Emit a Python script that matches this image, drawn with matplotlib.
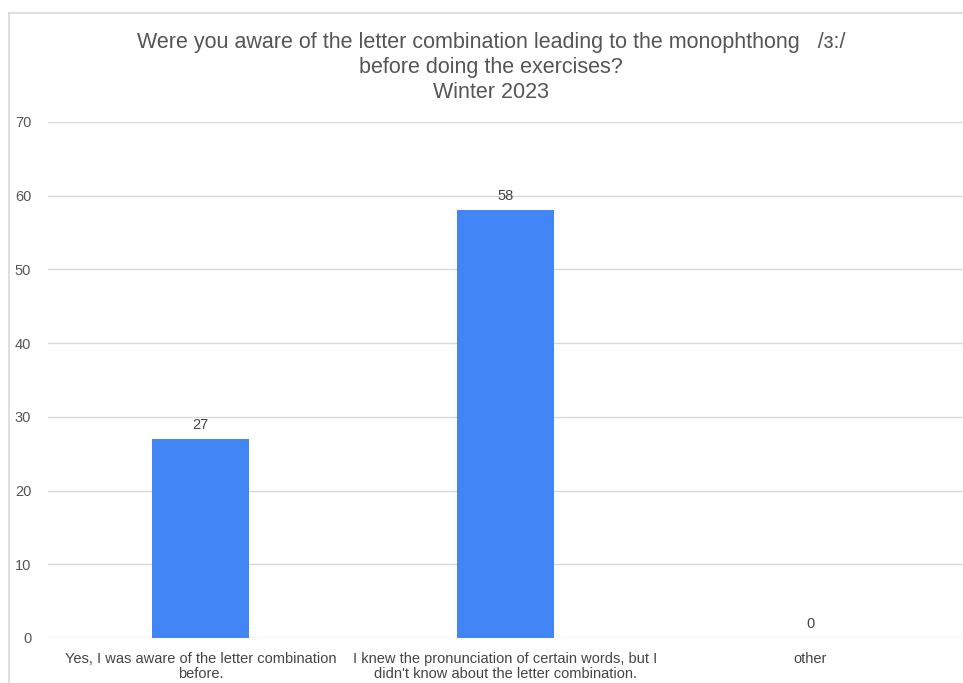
import matplotlib
matplotlib.use("Agg")
import matplotlib.pyplot as plt
from matplotlib.lines import Line2D

categories = [
    "Yes, I was aware of the letter combination\nbefore.",
    "I knew the pronunciation of certain words, but I\ndidn't know about the letter combination.",
    "other",
]
values = [27, 58, 0]
yticks = [0, 10, 20, 30, 40, 50, 60, 70]
title = ("Were you aware of the letter combination leading to the monophthong   /ɜ:/\n"
         "before doing the exercises?\nWinter 2023")

plt.rcParams['font.family'] = ['Liberation Sans', 'DejaVu Sans']

fig = plt.figure(figsize=(9.63, 6.83), dpi=100)
ax = fig.add_axes([0.0498, 0.0659, 0.9502, 0.7555])

x = list(range(len(categories)))
bars = ax.bar(x, values, width=0.315, color="#4285F4", zorder=3)
for xi, v in zip(x, values):
    ax.annotate(str(v), (xi, v), xytext=(0, 5), textcoords="offset points",
                ha="center", va="bottom", fontsize=10.5, color="#444444", zorder=4)

ax.set_xlim(-0.5, 2.5)
ax.set_ylim(0, 70)
ax.set_yticks(yticks)
ax.set_yticklabels([str(t) for t in yticks], fontsize=10.5, color="#555555")
ax.set_xticks(x)
ax.set_xticklabels(categories, fontsize=10.5, color="#444444", linespacing=1.12)
ax.tick_params(axis="x", length=0, pad=10)
ax.tick_params(axis="y", length=0, pad=12)
ax.grid(axis="y", color="#d9d9d9", linewidth=1, zorder=0)
for s in ax.spines.values():
    s.set_visible(False)

fig.text(0.51, 0.953, title, ha="center", va="top", fontsize=15.5,
         color="#555555", linespacing=1.25)

# outer border (top and left)
fig.add_artist(Line2D([9/963, 9/963], [0, 1 - 13/683], transform=fig.transFigure,
                      color="#d9d9d9", linewidth=1.2))
fig.add_artist(Line2D([9/963, 1], [1 - 13/683, 1 - 13/683], transform=fig.transFigure,
                      color="#d9d9d9", linewidth=1.2))

fig.savefig("out.png", dpi=100)
